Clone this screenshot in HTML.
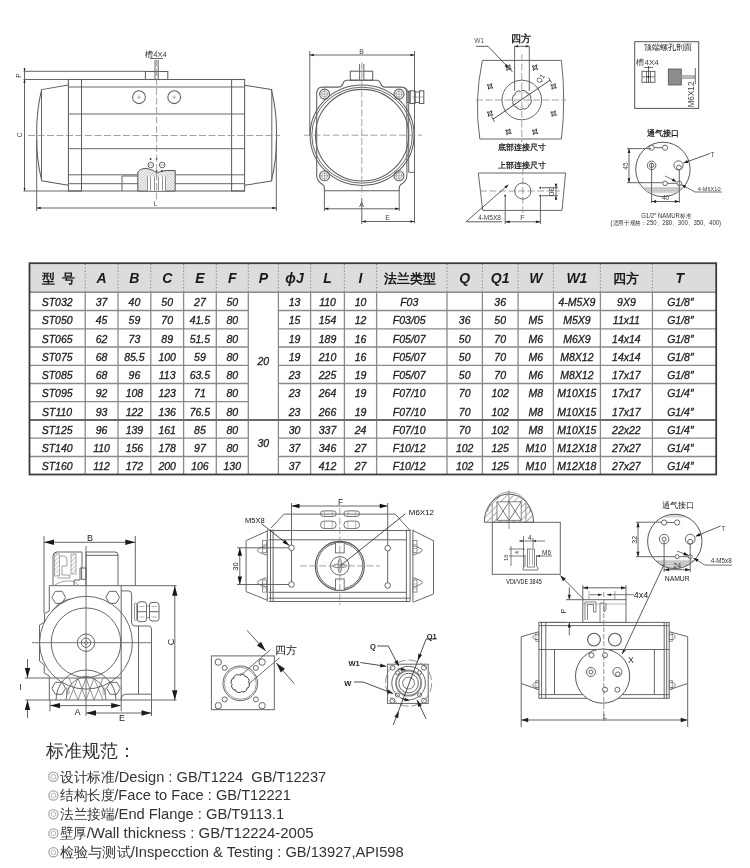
<!DOCTYPE html>
<html><head><meta charset="utf-8"><style>
html,body{margin:0;padding:0;background:#fff;}
body{width:750px;height:868px;position:relative;overflow:hidden;font-family:"Liberation Sans",sans-serif;}
svg{position:absolute;left:0;top:0;will-change:transform;}
.th{font-family:"Liberation Sans",sans-serif;font-weight:bold;font-style:italic;font-size:14px;fill:#1a1a1a;text-anchor:middle;}
.th.cjk{font-style:normal;font-size:13px;}
.td{font-family:"Liberation Sans",sans-serif;font-style:italic;font-size:10.5px;fill:#1e1e1e;stroke:#1e1e1e;stroke-width:0.3px;text-anchor:middle;}
.t0{position:absolute;font-size:17.5px;color:#333;white-space:nowrap;line-height:20px;}
.t1{position:absolute;font-size:14px;color:#3a3a3a;white-space:nowrap;line-height:18px;letter-spacing:-0.2px;}
.ci{color:#888;font-size:12px;margin-right:1px;}
.s{fill:none;stroke:#666;stroke-width:1;}
.s2{fill:none;stroke:#555;stroke-width:1.2;}
.c{fill:none;stroke:#888;stroke-width:0.8;stroke-dasharray:7 2 1.5 2;}
.lb{font-family:"Liberation Sans",sans-serif;font-size:7px;fill:#444;}
</style></head><body>
<svg width="750" height="868" viewBox="0 0 750 868">
<defs>
<pattern id="hatch" width="3" height="3" patternUnits="userSpaceOnUse" patternTransform="rotate(45)"><line x1="0" y1="0" x2="0" y2="3" stroke="#777" stroke-width="0.8"/></pattern>
<pattern id="hatch2" width="4.6" height="4.6" patternUnits="userSpaceOnUse" patternTransform="rotate(45)"><line x1="0" y1="0" x2="0" y2="4.6" stroke="#555" stroke-width="0.9"/></pattern>
<pattern id="hatchd" width="2" height="2" patternUnits="userSpaceOnUse" patternTransform="rotate(45)"><line x1="0" y1="0" x2="0" y2="2" stroke="#666" stroke-width="0.75"/></pattern>
<marker id="ar" viewBox="0 0 10 10" refX="10" refY="5" markerWidth="6" markerHeight="6" orient="auto-start-reverse"><path d="M0,2 L10,5 L0,8 z" fill="#444"/></marker>
</defs>
<line x1="23.5" y1="71.3" x2="145.4" y2="71.3" fill="none" stroke="#666" stroke-width="1"/><line x1="23.5" y1="79.5" x2="68.4" y2="79.5" fill="none" stroke="#666" stroke-width="1"/><line x1="23.5" y1="191" x2="68.4" y2="191" fill="none" stroke="#666" stroke-width="1"/><line x1="24.5" y1="68" x2="24.5" y2="191" fill="none" stroke="#666" stroke-width="1"/><path d="M24.50,71.30 L23.50,68.30 L25.50,68.30 z" fill="#222"/><path d="M24.50,79.50 L25.50,82.50 L23.50,82.50 z" fill="#222"/><path d="M24.50,79.50 L25.50,82.50 L23.50,82.50 z" fill="#222"/><path d="M24.50,191.00 L23.50,188.00 L25.50,188.00 z" fill="#222"/><text x="19.5" y="75.5" font-size="6.5" text-anchor="middle" fill="#444" font-weight="normal" font-family='"Liberation Sans",sans-serif' transform="rotate(-90 19.5 75.5)" dominant-baseline="middle">P</text><text x="20" y="135" font-size="6.5" text-anchor="middle" fill="#444" font-weight="normal" font-family='"Liberation Sans",sans-serif' transform="rotate(-90 20 135)" dominant-baseline="middle">C</text><line x1="36.7" y1="140" x2="36.7" y2="211" fill="none" stroke="#666" stroke-width="1"/><line x1="276.3" y1="140" x2="276.3" y2="211" fill="none" stroke="#666" stroke-width="1"/><line x1="36.7" y1="208" x2="276.3" y2="208" fill="none" stroke="#666" stroke-width="1"/><path d="M36.70,208.00 L40.70,206.80 L40.70,209.20 z" fill="#222"/><path d="M276.30,208.00 L272.30,209.20 L272.30,206.80 z" fill="#222"/><text x="155.5" y="206" font-size="6.5" text-anchor="middle" fill="#444" font-weight="normal" font-family='"Liberation Sans",sans-serif' >L</text><line x1="68.4" y1="79.5" x2="244.6" y2="79.5" fill="none" stroke="#5e5e5e" stroke-width="1.05"/><line x1="68.4" y1="191" x2="244.6" y2="191" fill="none" stroke="#5e5e5e" stroke-width="1.05"/><line x1="68.4" y1="87" x2="244.6" y2="87" fill="none" stroke="#666" stroke-width="1"/><line x1="68.4" y1="114" x2="244.6" y2="114" fill="none" stroke="#666" stroke-width="1"/><line x1="68.4" y1="148.7" x2="244.6" y2="148.7" fill="none" stroke="#666" stroke-width="1"/><line x1="68.4" y1="174.8" x2="244.6" y2="174.8" fill="none" stroke="#666" stroke-width="1"/><line x1="68.4" y1="183.7" x2="244.6" y2="183.7" fill="none" stroke="#666" stroke-width="1"/><rect x="68.4" y="79.5" width="13.1" height="111.5" fill="none" stroke="#5e5e5e" stroke-width="1.05" /><rect x="231.6" y="79.5" width="13.0" height="111.5" fill="none" stroke="#5e5e5e" stroke-width="1.05" /><path d="M68.4,85 L41.6,89.6 Q36.2,112 36.7,135.2 Q36.2,158 41.7,180.7 L68.4,185.3" fill="none" stroke="#5e5e5e" stroke-width="1.05"/><line x1="41.5" y1="89.6" x2="41.5" y2="180.7" fill="none" stroke="#666" stroke-width="1"/><path d="M244.6,85.2 L271.3,89.5 Q277,112 276.5,135.2 Q277,158 271.3,181 L244.6,185.3" fill="none" stroke="#5e5e5e" stroke-width="1.05"/><line x1="271.8" y1="89.5" x2="271.8" y2="181" fill="none" stroke="#666" stroke-width="1"/><rect x="145.4" y="71.5" width="22.4" height="8" fill="none" stroke="#5e5e5e" stroke-width="1.05" /><line x1="155" y1="60" x2="155" y2="79.5" fill="none" stroke="#666" stroke-width="1"/><line x1="158.2" y1="60" x2="158.2" y2="79.5" fill="none" stroke="#666" stroke-width="1"/><line x1="150" y1="58.5" x2="163" y2="58.5" fill="none" stroke="#666" stroke-width="1"/><text x="156" y="57" font-size="7.5" text-anchor="middle" fill="#333" font-weight="normal" font-family='"Liberation Sans",sans-serif' >槽4X4</text><circle cx="139" cy="97.2" r="6.4" fill="none" stroke="#5e5e5e" stroke-width="1.05"/><line x1="137" y1="97.2" x2="141" y2="97.2" stroke="#888" stroke-width="0.6"/><line x1="139" y1="95.2" x2="139" y2="99.2" stroke="#888" stroke-width="0.6"/><circle cx="174.2" cy="97.2" r="6.4" fill="none" stroke="#5e5e5e" stroke-width="1.05"/><line x1="172.2" y1="97.2" x2="176.2" y2="97.2" stroke="#888" stroke-width="0.6"/><line x1="174.2" y1="95.2" x2="174.2" y2="99.2" stroke="#888" stroke-width="0.6"/><path d="M137.8,191 L137.8,172 Q141,168 147,168.5 Q153,169.5 157,173 Q161,171 166,170.5 L175.2,170.5 L175.2,191 Z" fill="#fff" stroke="none"/><path d="M137.8,191 L137.8,172 Q141,168 147,168.5 Q153,169.5 157,173 Q161,171 166,170.5 L175.2,170.5 L175.2,191 Z" fill="url(#hatchd)" stroke="#555" stroke-width="1"/><rect x="147.5" y="176.5" width="18" height="14.3" fill="#fff" stroke="none" /><line x1="147.5" y1="176.5" x2="147.5" y2="190.8" stroke="#777" stroke-width="0.8"/><line x1="150.5" y1="176.5" x2="150.5" y2="190.8" stroke="#777" stroke-width="0.8"/><line x1="154.5" y1="176.5" x2="154.5" y2="190.8" stroke="#777" stroke-width="0.8"/><line x1="158.5" y1="176.5" x2="158.5" y2="190.8" stroke="#777" stroke-width="0.8"/><line x1="162.5" y1="176.5" x2="162.5" y2="190.8" stroke="#777" stroke-width="0.8"/><line x1="165.5" y1="176.5" x2="165.5" y2="190.8" stroke="#777" stroke-width="0.8"/><circle cx="150.8" cy="165" r="2.8" fill="none" stroke="#666" stroke-width="1"/><circle cx="162.2" cy="165" r="2.8" fill="none" stroke="#666" stroke-width="1"/><line x1="149" y1="165" x2="152.6" y2="165" stroke="#777" stroke-width="0.6"/><line x1="160.4" y1="165" x2="164" y2="165" stroke="#777" stroke-width="0.6"/><circle cx="150.6" cy="159" r="0.9" fill="#333"/><circle cx="156.6" cy="159" r="0.9" fill="#333"/><circle cx="156.6" cy="171" r="0.9" fill="#333"/><circle cx="162" cy="171" r="0.9" fill="#333"/><line x1="122" y1="176" x2="137.8" y2="176" fill="none" stroke="#666" stroke-width="1"/><line x1="122" y1="176" x2="122" y2="191" fill="none" stroke="#666" stroke-width="1"/><line x1="156.6" y1="50" x2="156.6" y2="200" fill="none" stroke="#8a8a8a" stroke-width="0.8" stroke-dasharray="7 2.5"/><line x1="28" y1="135.5" x2="280" y2="135.5" fill="none" stroke="#8a8a8a" stroke-width="0.8" stroke-dasharray="7 2.5"/><line x1="309.8" y1="51" x2="309.8" y2="136" fill="none" stroke="#666" stroke-width="1"/><line x1="414.5" y1="51" x2="414.5" y2="223" fill="none" stroke="#666" stroke-width="1"/><line x1="309.8" y1="55" x2="414.5" y2="55" fill="none" stroke="#666" stroke-width="1"/><path d="M309.80,55.00 L313.80,53.80 L313.80,56.20 z" fill="#222"/><path d="M414.50,55.00 L410.50,56.20 L410.50,53.80 z" fill="#222"/><text x="361.5" y="53.5" font-size="7" text-anchor="middle" fill="#444" font-weight="normal" font-family='"Liberation Sans",sans-serif' >B</text><path d="M316.7,175 L316.7,93.6 Q316.9,87.3 322.3,87.1 L338.5,87.1 Q341.5,87 342.8,84 Q344,80.2 347,80.2 L376.6,80.2 Q379.6,80.2 380.8,84 Q382,87 385,87.1 L401.3,87.1 Q406.7,87.3 406.9,93.6 L406.9,175 Q406.9,181 401,184.5 Q399.2,185.8 399.2,188 L399.2,190.7 L324.4,190.7 L324.4,188 Q324.4,185.8 322.6,184.5 Q316.7,181 316.7,175 Z" fill="none" stroke="#5e5e5e" stroke-width="1.05"/><rect x="350.3" y="71.2" width="22.4" height="9" fill="none" stroke="#5e5e5e" stroke-width="1.05" /><line x1="359.6" y1="64" x2="359.6" y2="80" fill="none" stroke="#666" stroke-width="1"/><line x1="363.8" y1="64" x2="363.8" y2="80" fill="none" stroke="#666" stroke-width="1"/><ellipse cx="362.1" cy="135.2" rx="52" ry="50.2" fill="none" stroke="#5e5e5e" stroke-width="1.05"/><ellipse cx="362.1" cy="135.2" rx="50.3" ry="48" fill="none" stroke="#666" stroke-width="1"/><ellipse cx="362.1" cy="135.2" rx="46.6" ry="45.8" fill="none" stroke="#5e5e5e" stroke-width="1.05"/><circle cx="324.6" cy="94.1" r="5" fill="none" stroke="#5e5e5e" stroke-width="1.05"/><circle cx="324.6" cy="94.1" r="3" fill="none" stroke="#888" stroke-width="0.7"/><line x1="319.6" y1="94.1" x2="329.6" y2="94.1" stroke="#888" stroke-width="0.6"/><line x1="324.6" y1="89.1" x2="324.6" y2="99.1" stroke="#888" stroke-width="0.6"/><circle cx="399" cy="94.1" r="5" fill="none" stroke="#5e5e5e" stroke-width="1.05"/><circle cx="399" cy="94.1" r="3" fill="none" stroke="#888" stroke-width="0.7"/><line x1="394" y1="94.1" x2="404" y2="94.1" stroke="#888" stroke-width="0.6"/><line x1="399" y1="89.1" x2="399" y2="99.1" stroke="#888" stroke-width="0.6"/><circle cx="324.6" cy="175.8" r="5" fill="none" stroke="#5e5e5e" stroke-width="1.05"/><circle cx="324.6" cy="175.8" r="3" fill="none" stroke="#888" stroke-width="0.7"/><line x1="319.6" y1="175.8" x2="329.6" y2="175.8" stroke="#888" stroke-width="0.6"/><line x1="324.6" y1="170.8" x2="324.6" y2="180.8" stroke="#888" stroke-width="0.6"/><circle cx="399" cy="175.8" r="5" fill="none" stroke="#5e5e5e" stroke-width="1.05"/><circle cx="399" cy="175.8" r="3" fill="none" stroke="#888" stroke-width="0.7"/><line x1="394" y1="175.8" x2="404" y2="175.8" stroke="#888" stroke-width="0.6"/><line x1="399" y1="170.8" x2="399" y2="180.8" stroke="#888" stroke-width="0.6"/><rect x="407" y="91.5" width="3" height="11" fill="none" stroke="#666" stroke-width="1" /><rect x="410" y="90.8" width="5" height="12.7" fill="none" stroke="#5e5e5e" stroke-width="1.05" /><rect x="415" y="92" width="4.5" height="10.5" fill="none" stroke="#666" stroke-width="1" /><rect x="419.5" y="90.8" width="4.3" height="12.7" fill="none" stroke="#5e5e5e" stroke-width="1.05" /><line x1="412" y1="97" x2="424" y2="97" stroke="#777" stroke-width="0.6"/><path d="M403.5,87.5 Q408.7,88.5 408.7,94 L408.7,172.3 L414.5,172.3" fill="none" stroke="#666" stroke-width="1"/><line x1="361.8" y1="62" x2="361.8" y2="196" fill="none" stroke="#8a8a8a" stroke-width="0.8" stroke-dasharray="7 2.5"/><line x1="304" y1="135.2" x2="422" y2="135.2" fill="none" stroke="#8a8a8a" stroke-width="0.8" stroke-dasharray="7 2.5"/><line x1="324.4" y1="190.7" x2="324.4" y2="211" fill="none" stroke="#666" stroke-width="1"/><line x1="399.2" y1="190.7" x2="399.2" y2="211" fill="none" stroke="#666" stroke-width="1"/><line x1="324.4" y1="208.8" x2="399.2" y2="208.8" fill="none" stroke="#666" stroke-width="1"/><path d="M324.40,208.80 L328.40,207.60 L328.40,210.00 z" fill="#222"/><path d="M399.20,208.80 L395.20,210.00 L395.20,207.60 z" fill="#222"/><text x="361.5" y="207" font-size="7" text-anchor="middle" fill="#444" font-weight="normal" font-family='"Liberation Sans",sans-serif' >A</text><line x1="361.8" y1="198" x2="361.8" y2="224" fill="none" stroke="#666" stroke-width="1"/><line x1="361.8" y1="221.5" x2="414.5" y2="221.5" fill="none" stroke="#666" stroke-width="1"/><path d="M361.80,221.50 L365.80,220.30 L365.80,222.70 z" fill="#222"/><path d="M414.50,221.50 L410.50,222.70 L410.50,220.30 z" fill="#222"/><text x="387.5" y="220" font-size="7" text-anchor="middle" fill="#444" font-weight="normal" font-family='"Liberation Sans",sans-serif' >E</text><path d="M482.4,60.4 L561.4,60.4 Q566,100 561.4,139 L479.8,139 Q474,100 482.4,60.4 Z" fill="none" stroke="#666" stroke-width="1"/><line x1="514.6" y1="46.3" x2="514.6" y2="91" fill="none" stroke="#666" stroke-width="1"/><line x1="529.3" y1="46.3" x2="529.3" y2="91" fill="none" stroke="#666" stroke-width="1"/><line x1="514.6" y1="46.3" x2="529.3" y2="46.3" fill="none" stroke="#666" stroke-width="1"/><path d="M514.60,46.30 L518.10,45.20 L518.10,47.40 z" fill="#222"/><path d="M529.30,46.30 L525.80,47.40 L525.80,45.20 z" fill="#222"/><line x1="521.8" y1="54" x2="521.8" y2="142" fill="none" stroke="#8a8a8a" stroke-width="0.8" stroke-dasharray="7 2.5"/><line x1="476" y1="100" x2="566" y2="100" fill="none" stroke="#8a8a8a" stroke-width="0.8" stroke-dasharray="7 2.5"/><circle cx="521.8" cy="100" r="19.8" fill="none" stroke="#666" stroke-width="1"/><path d="M531.40,100.00 A9.6,9.6 0 0 1 530.28,104.49 Q528.07,104.63 528.59,106.79 A9.6,9.6 0 0 1 524.62,109.18 Q522.96,107.71 521.80,109.60 A9.6,9.6 0 0 1 517.31,108.48 Q517.17,106.27 515.01,106.79 A9.6,9.6 0 0 1 512.62,102.82 Q514.09,101.16 512.20,100.00 A9.6,9.6 0 0 1 513.32,95.51 Q515.53,95.37 515.01,93.21 A9.6,9.6 0 0 1 518.98,90.82 Q520.64,92.29 521.80,90.40 A9.6,9.6 0 0 1 526.29,91.52 Q526.43,93.73 528.59,93.21 A9.6,9.6 0 0 1 530.98,97.18 Q529.51,98.84 531.40,100.00 Z" fill="none" stroke="#444" stroke-width="0.9"/><circle cx="521.8" cy="100" r="7.3" fill="none" stroke="#aaa" stroke-width="0.6" stroke-dasharray="1.5 1.5"/><path d="M511.26,69.25 L508.79,69.05 L506.75,70.46 L506.95,67.99 L505.54,65.95 L508.01,66.15 L510.05,64.74 L509.85,67.21 Z" fill="none" stroke="#333" stroke-width="0.9"/><circle cx="508.4" cy="67.6" r="0.9" fill="none" stroke="#666" stroke-width="0.5"/><path d="M537.86,69.25 L535.39,69.05 L533.35,70.46 L533.55,67.99 L532.14,65.95 L534.61,66.15 L536.65,64.74 L536.45,67.21 Z" fill="none" stroke="#333" stroke-width="0.9"/><circle cx="535" cy="67.6" r="0.9" fill="none" stroke="#666" stroke-width="0.5"/><path d="M492.86,88.05 L490.39,87.85 L488.35,89.26 L488.55,86.79 L487.14,84.75 L489.61,84.95 L491.65,83.54 L491.45,86.01 Z" fill="none" stroke="#333" stroke-width="0.9"/><circle cx="490" cy="86.4" r="0.9" fill="none" stroke="#666" stroke-width="0.5"/><path d="M556.46,88.05 L553.99,87.85 L551.95,89.26 L552.15,86.79 L550.74,84.75 L553.21,84.95 L555.25,83.54 L555.05,86.01 Z" fill="none" stroke="#333" stroke-width="0.9"/><circle cx="553.6" cy="86.4" r="0.9" fill="none" stroke="#666" stroke-width="0.5"/><path d="M492.86,115.25 L490.39,115.05 L488.35,116.46 L488.55,113.99 L487.14,111.95 L489.61,112.15 L491.65,110.74 L491.45,113.21 Z" fill="none" stroke="#333" stroke-width="0.9"/><circle cx="490" cy="113.6" r="0.9" fill="none" stroke="#666" stroke-width="0.5"/><path d="M556.46,115.25 L553.99,115.05 L551.95,116.46 L552.15,113.99 L550.74,111.95 L553.21,112.15 L555.25,110.74 L555.05,113.21 Z" fill="none" stroke="#333" stroke-width="0.9"/><circle cx="553.6" cy="113.6" r="0.9" fill="none" stroke="#666" stroke-width="0.5"/><path d="M511.26,133.45 L508.79,133.25 L506.75,134.66 L506.95,132.19 L505.54,130.15 L508.01,130.35 L510.05,128.94 L509.85,131.41 Z" fill="none" stroke="#333" stroke-width="0.9"/><circle cx="508.4" cy="131.8" r="0.9" fill="none" stroke="#666" stroke-width="0.5"/><path d="M537.86,133.45 L535.39,133.25 L533.35,134.66 L533.55,132.19 L532.14,130.15 L534.61,130.35 L536.65,128.94 L536.45,131.41 Z" fill="none" stroke="#333" stroke-width="0.9"/><circle cx="535" cy="131.8" r="0.9" fill="none" stroke="#666" stroke-width="0.5"/><line x1="493" y1="119.2" x2="550" y2="80.2" stroke="#333" stroke-width="0.9"/><line x1="491.5" y1="116.5" x2="494.5" y2="121.8" stroke="#333" stroke-width="0.8"/><line x1="548.5" y1="77.6" x2="551.5" y2="82.8" stroke="#333" stroke-width="0.8"/><text x="542.5" y="80" font-size="7" text-anchor="middle" fill="#444" font-weight="normal" font-family='"Liberation Sans",sans-serif' transform="rotate(-55 542.5 80)" >Q1</text><line x1="476" y1="46.3" x2="488" y2="46.3" stroke="#333" stroke-width="0.8"/><line x1="488" y1="46.3" x2="512.5" y2="72" stroke="#333" stroke-width="0.8"/><path d="M508.60,67.90 L504.81,66.00 L506.83,64.05 z" fill="#222"/><text x="479.2" y="43.3" font-size="6.5" text-anchor="middle" fill="#555" font-weight="normal" font-family='"Liberation Sans",sans-serif' >W1</text><text x="521.3" y="42" font-size="9.5" text-anchor="middle" fill="#222" font-weight="bold" font-family='"Liberation Sans",sans-serif' >四方</text><text x="521.8" y="150" font-size="8.3" text-anchor="middle" fill="#222" font-weight="bold" font-family='"Liberation Sans",sans-serif' >底部连接尺寸</text><text x="521.8" y="167.5" font-size="8.3" text-anchor="middle" fill="#222" font-weight="bold" font-family='"Liberation Sans",sans-serif' >上部连接尺寸</text><path d="M478.3,173 L565.6,173 L562,210.4 L482.7,210.4 Z" fill="none" stroke="#666" stroke-width="1"/><line x1="522.8" y1="168" x2="522.8" y2="214" fill="none" stroke="#8a8a8a" stroke-width="0.8" stroke-dasharray="7 2.5"/><line x1="480" y1="191" x2="560" y2="191" fill="none" stroke="#8a8a8a" stroke-width="0.8" stroke-dasharray="7 2.5"/><circle cx="522.8" cy="191" r="8.1" fill="none" stroke="#666" stroke-width="1"/><circle cx="505.2" cy="195.7" r="1" fill="#222"/><circle cx="540.4" cy="187.7" r="1" fill="#222"/><circle cx="540.4" cy="195.7" r="1" fill="#222"/><line x1="505.2" y1="197" x2="505.2" y2="224" fill="none" stroke="#666" stroke-width="1"/><line x1="540.4" y1="197" x2="540.4" y2="224" fill="none" stroke="#666" stroke-width="1"/><line x1="505.2" y1="221.8" x2="540.4" y2="221.8" fill="none" stroke="#666" stroke-width="1"/><path d="M505.20,221.80 L509.70,220.40 L509.70,223.20 z" fill="#222"/><path d="M540.40,221.80 L535.90,223.20 L535.90,220.40 z" fill="#222"/><text x="522.5" y="219.5" font-size="7" text-anchor="middle" fill="#444" font-weight="normal" font-family='"Liberation Sans",sans-serif' >F</text><line x1="542" y1="187.7" x2="558" y2="187.7" fill="none" stroke="#666" stroke-width="1"/><line x1="542" y1="195.7" x2="558" y2="195.7" fill="none" stroke="#666" stroke-width="1"/><line x1="556" y1="184" x2="556" y2="199.5" fill="none" stroke="#666" stroke-width="1"/><path d="M556.00,187.70 L554.70,183.70 L557.30,183.70 z" fill="#222"/><path d="M556.00,195.70 L557.30,199.70 L554.70,199.70 z" fill="#222"/><text x="551.5" y="191.7" font-size="8" text-anchor="middle" fill="#333" font-weight="normal" font-family='"Liberation Sans",sans-serif' transform="rotate(90 551.5 191.7)" dominant-baseline="middle">30</text><line x1="466" y1="221.8" x2="502" y2="221.8" stroke="#333" stroke-width="0.8"/><line x1="466" y1="221.8" x2="508.4" y2="184.7" stroke="#333" stroke-width="0.8"/><path d="M508.40,184.70 L506.30,188.38 L504.46,186.27 z" fill="#222"/><text x="489.5" y="219.8" font-size="6.6" text-anchor="middle" fill="#444" font-weight="normal" font-family='"Liberation Sans",sans-serif' >4-M5X8</text><rect x="634.7" y="41.7" width="64" height="66.7" fill="none" stroke="#555" stroke-width="1" /><text x="667.6" y="49.5" font-size="7.6" text-anchor="middle" fill="#111" font-weight="normal" font-family='"Liberation Sans",sans-serif' >顶端螺孔剖面</text><text x="647.6" y="64.5" font-size="8" text-anchor="middle" fill="#444" font-weight="normal" font-family='"Liberation Sans",sans-serif' >槽4X4</text><rect x="642" y="71.3" width="12.9" height="11" fill="none" stroke="#555" stroke-width="0.9" /><line x1="642" y1="76.8" x2="654.9" y2="76.8" stroke="#555" stroke-width="0.8"/><line x1="646.5" y1="71.3" x2="646.5" y2="82.3" stroke="#555" stroke-width="0.8"/><line x1="650.5" y1="71.3" x2="650.5" y2="82.3" stroke="#555" stroke-width="0.8"/><line x1="648.5" y1="66" x2="648.5" y2="82.3" stroke="#333" stroke-width="0.8"/><line x1="644" y1="67.5" x2="653" y2="67.5" stroke="#333" stroke-width="0.7"/><circle cx="648.5" cy="76.8" r="1" fill="#222"/><rect x="668.3" y="69" width="13" height="16" fill="#8c8c8c" stroke="#555" stroke-width="0.8" /><rect x="681.3" y="75.5" width="13.4" height="3.2" fill="#bbb" stroke="#888" stroke-width="0.5" /><line x1="695.3" y1="68" x2="695.3" y2="84" stroke="#444" stroke-width="0.8"/><text x="691.5" y="94.5" font-size="8.2" text-anchor="middle" fill="#444" font-weight="normal" font-family='"Liberation Sans",sans-serif' transform="rotate(-90 691.5 94.5)" dominant-baseline="middle">M6X12</text><text x="662.5" y="135.5" font-size="8" text-anchor="middle" fill="#222" font-weight="bold" font-family='"Liberation Sans",sans-serif' >通气接口</text><circle cx="662.9" cy="169.4" r="27.2" fill="none" stroke="#555" stroke-width="1"/><clipPath id="vclip"><circle cx="662.9" cy="169.4" r="27"/></clipPath><g clip-path="url(#vclip)"><rect x="630" y="186.8" width="70" height="6.5" fill="#d6d6d6"/><line x1="630" y1="188.6" x2="700" y2="188.6" stroke="#aaa" stroke-width="0.6"/><line x1="630" y1="190.8" x2="700" y2="190.8" stroke="#aaa" stroke-width="0.6"/></g><circle cx="651.6" cy="147.7" r="2.6" fill="none" stroke="#666" stroke-width="1"/><circle cx="665.1" cy="147.7" r="2.6" fill="none" stroke="#666" stroke-width="1"/><line x1="654.2" y1="147.7" x2="662.5" y2="147.7" fill="none" stroke="#666" stroke-width="1"/><circle cx="651.6" cy="165.4" r="4.3" fill="none" stroke="#666" stroke-width="1"/><circle cx="651.6" cy="165.4" r="2.2" fill="none" stroke="#666" stroke-width="1"/><line x1="651.6" y1="163" x2="651.6" y2="203" fill="none" stroke="#666" stroke-width="1"/><circle cx="678.5" cy="165.4" r="4.6" fill="none" stroke="#666" stroke-width="1"/><circle cx="679" cy="167.5" r="2.4" fill="none" stroke="#666" stroke-width="1"/><line x1="679.3" y1="170" x2="679.3" y2="203" fill="none" stroke="#666" stroke-width="1"/><circle cx="665.1" cy="183.3" r="2.3" fill="none" stroke="#666" stroke-width="1"/><circle cx="679.3" cy="183.3" r="2.3" fill="none" stroke="#666" stroke-width="1"/><line x1="667.4" y1="183.3" x2="677" y2="183.3" fill="none" stroke="#666" stroke-width="1"/><line x1="627" y1="148.6" x2="651" y2="148.6" fill="none" stroke="#666" stroke-width="1"/><line x1="627" y1="182.7" x2="663" y2="182.7" fill="none" stroke="#666" stroke-width="1"/><line x1="629" y1="148.6" x2="629" y2="182.7" fill="none" stroke="#666" stroke-width="1"/><path d="M629.00,148.60 L630.40,153.10 L627.60,153.10 z" fill="#222"/><path d="M629.00,182.70 L627.60,178.20 L630.40,178.20 z" fill="#222"/><text x="626.5" y="166" font-size="6.5" text-anchor="middle" fill="#444" font-weight="normal" font-family='"Liberation Sans",sans-serif' transform="rotate(-90 626.5 166)" dominant-baseline="middle">45</text><line x1="651.6" y1="201.5" x2="679.3" y2="201.5" fill="none" stroke="#666" stroke-width="1"/><path d="M651.60,201.50 L656.10,200.10 L656.10,202.90 z" fill="#222"/><path d="M679.30,201.50 L674.80,202.90 L674.80,200.10 z" fill="#222"/><text x="665.5" y="199.5" font-size="6.5" text-anchor="middle" fill="#444" font-weight="normal" font-family='"Liberation Sans",sans-serif' >40</text><line x1="710" y1="153.5" x2="683.5" y2="163" stroke="#333" stroke-width="0.8"/><path d="M683.50,163.00 L687.18,159.96 L688.28,162.96 z" fill="#222"/><text x="712.5" y="157.3" font-size="6.5" text-anchor="middle" fill="#444" font-weight="normal" font-family='"Liberation Sans",sans-serif' >T</text><line x1="695" y1="192" x2="722" y2="192" stroke="#333" stroke-width="0.7"/><line x1="695" y1="192" x2="681" y2="184.5" stroke="#333" stroke-width="0.7"/><path d="M681.50,184.80 L686.22,185.50 L684.72,188.33 z" fill="#222"/><line x1="665" y1="176" x2="676" y2="181.5" stroke="#333" stroke-width="0.7"/><path d="M676.50,181.80 L671.78,181.10 L673.28,178.27 z" fill="#222"/><text x="709.2" y="191.3" font-size="5.6" text-anchor="middle" fill="#444" font-weight="normal" font-family='"Liberation Sans",sans-serif' >4-M6X10</text><text x="666.2" y="217.5" font-size="6.4" text-anchor="middle" fill="#333" font-weight="normal" font-family='"Liberation Sans",sans-serif' textLength="50" lengthAdjust="spacingAndGlyphs">G1/2″ NAMUR标准</text><text x="665.8" y="224.5" font-size="6.3" text-anchor="middle" fill="#333" font-weight="normal" font-family='"Liberation Sans",sans-serif' textLength="110.4" lengthAdjust="spacingAndGlyphs">(适用于规格：250、280、300、350、400)</text><line x1="44" y1="536" x2="44" y2="613" fill="none" stroke="#666" stroke-width="1"/><line x1="135.3" y1="536" x2="135.3" y2="585.7" fill="none" stroke="#666" stroke-width="1"/><line x1="44" y1="542.3" x2="135.3" y2="542.3" fill="none" stroke="#666" stroke-width="1"/><path d="M44.00,542.30 L54.00,539.60 L54.00,545.00 z" fill="#1a1a1a"/><path d="M135.30,542.30 L125.30,545.00 L125.30,539.60 z" fill="#1a1a1a"/><text x="90" y="540.5" font-size="9" text-anchor="middle" fill="#222" font-weight="normal" font-family='"Liberation Sans",sans-serif' >B</text><path d="M86,585.7 L86,552 L115,552 Q118,552 118,555 L118,585.7" fill="none" stroke="#666" stroke-width="1"/><line x1="86" y1="555.3" x2="118" y2="555.3" fill="none" stroke="#666" stroke-width="1"/><rect x="81.6" y="568" width="4.4" height="11.3" fill="none" stroke="#666" stroke-width="1" /><path d="M53,585 L53,556 Q53,552 57,552 L82,552 L82,568 L80,568 L80,580 L74,580 L74,585" fill="none" stroke="#666" stroke-width="1"/><rect x="54.5" y="554" width="5" height="22" fill="url(#hatch)" stroke="#777" stroke-width="0.6" /><rect x="71" y="554" width="5" height="20" fill="url(#hatch)" stroke="#777" stroke-width="0.6" /><path d="M60,556 L64,556 Q67,556 67,560 L67,566 L62,566 L62,575 L70,575 L70,578 L57,578" fill="none" stroke="#777" stroke-width="0.7"/><path d="M55,585 Q62,580 72,581 Q76,582 78,585" fill="none" stroke="#777" stroke-width="0.7"/><line x1="49.3" y1="585.7" x2="176.5" y2="585.7" fill="none" stroke="#666" stroke-width="1"/><path d="M49.3,585.7 L49.3,611 L44.5,613.5 L44.5,622 L39.5,625 L39.5,661 L44.2,665 L44.2,673 L49.3,676 L49.3,700" fill="none" stroke="#666" stroke-width="1"/><line x1="50" y1="678" x2="121.2" y2="678" fill="none" stroke="#666" stroke-width="1"/><line x1="121.2" y1="585.7" x2="121.2" y2="700" fill="none" stroke="#666" stroke-width="1"/><path d="M121.2,590.9 L128.6,590.9 Q131.6,590.9 131.6,594 L131.6,622 Q131.6,626 135,626 L148.5,626 Q151.5,626 151.5,629 L151.5,700" fill="none" stroke="#666" stroke-width="1"/><path d="M138.5,626 L138.5,694.2 L151.5,694.2" fill="none" stroke="#666" stroke-width="1"/><path d="M121.2,700 L121.2,698 Q122,694.2 126,694.2 L138.5,694.2" fill="none" stroke="#666" stroke-width="1"/><rect x="134.5" y="603" width="2.2" height="17.5" fill="none" stroke="#777" stroke-width="0.8" rx="1" /><rect x="137.5" y="601.8" width="9" height="19.9" fill="none" stroke="#666" stroke-width="1" rx="2.5" /><line x1="137.5" y1="611.7" x2="146.5" y2="611.7" fill="none" stroke="#666" stroke-width="1"/><line x1="139.5" y1="606.5" x2="144.5" y2="606.5" stroke="#888" stroke-width="0.6"/><line x1="139.5" y1="617" x2="144.5" y2="617" stroke="#888" stroke-width="0.6"/><rect x="146.5" y="606" width="3" height="11.5" fill="none" stroke="#777" stroke-width="0.8" /><rect x="149.5" y="602.5" width="9.5" height="18.5" fill="none" stroke="#666" stroke-width="1" rx="2.5" /><line x1="149.5" y1="611.7" x2="159" y2="611.7" fill="none" stroke="#666" stroke-width="1"/><line x1="151.5" y1="606.5" x2="157" y2="606.5" stroke="#888" stroke-width="0.6"/><line x1="151.5" y1="617" x2="157" y2="617" stroke="#888" stroke-width="0.6"/><path d="M51.90,597.30 L55.30,591.30 L62.10,591.30 L65.50,597.30 L62.10,603.30 L55.30,603.30 Z" fill="none" stroke="#666" stroke-width="1"/><path d="M105.90,597.30 L109.30,591.30 L116.10,591.30 L119.50,597.30 L116.10,603.30 L109.30,603.30 Z" fill="none" stroke="#666" stroke-width="1"/><path d="M51.90,688.30 L55.30,682.30 L62.10,682.30 L65.50,688.30 L62.10,694.30 L55.30,694.30 Z" fill="none" stroke="#666" stroke-width="1"/><path d="M106.70,688.30 L110.10,682.30 L116.90,682.30 L120.30,688.30 L116.90,694.30 L110.10,694.30 Z" fill="none" stroke="#666" stroke-width="1"/><path d="M52,611 Q60,601 70,599" fill="none" stroke="#666" stroke-width="1"/><circle cx="86" cy="642.7" r="46.4" fill="none" stroke="#666" stroke-width="1"/><circle cx="86" cy="642.7" r="34.8" fill="none" stroke="#666" stroke-width="1"/><circle cx="86" cy="642.7" r="8.7" fill="none" stroke="#666" stroke-width="1"/><circle cx="86" cy="642.7" r="4.7" fill="none" stroke="#666" stroke-width="1"/><circle cx="86" cy="642.7" r="1.8" fill="none" stroke="#888" stroke-width="0.6"/><path d="M56,700 A30,30 0 0 1 116,700" fill="none" stroke="#666" stroke-width="1"/><path d="M66,700 Q66,680 86,676 Q106,680 106,700" fill="none" stroke="#666" stroke-width="0.9"/><path d="M69,678 L78,700 L86,678 L94,700 L103,678 M69,700 L78,678 L86,700 L94,678 L103,700" fill="none" stroke="#777" stroke-width="0.8"/><rect x="66.5" y="688" width="2.5" height="6" fill="url(#hatch)" stroke="#777" stroke-width="0.5" /><rect x="103" y="688" width="2.5" height="6" fill="url(#hatch)" stroke="#777" stroke-width="0.5" /><line x1="32" y1="642.7" x2="151.5" y2="642.7" stroke="#666" stroke-width="0.9"/><line x1="86" y1="546" x2="86" y2="716" stroke="#666" stroke-width="0.9"/><line x1="25.3" y1="700" x2="176.5" y2="700" fill="none" stroke="#666" stroke-width="1"/><line x1="174.8" y1="585.7" x2="174.8" y2="700.3" fill="none" stroke="#666" stroke-width="1"/><path d="M174.80,585.70 L177.50,595.70 L172.10,595.70 z" fill="#1a1a1a"/><path d="M174.80,700.30 L172.10,690.30 L177.50,690.30 z" fill="#1a1a1a"/><text x="171.3" y="642" font-size="9" text-anchor="middle" fill="#222" font-weight="normal" font-family='"Liberation Sans",sans-serif' transform="rotate(-90 171.3 642)" dominant-baseline="middle">C</text><line x1="50" y1="700" x2="50" y2="711.3" fill="none" stroke="#666" stroke-width="1"/><line x1="121.2" y1="700" x2="121.2" y2="711.3" fill="none" stroke="#666" stroke-width="1"/><line x1="50" y1="705.6" x2="120" y2="705.6" fill="none" stroke="#666" stroke-width="1"/><path d="M50.00,705.60 L60.00,702.90 L60.00,708.30 z" fill="#1a1a1a"/><path d="M121.20,705.60 L111.20,708.30 L111.20,702.90 z" fill="#1a1a1a"/><text x="77.6" y="714.5" font-size="9" text-anchor="middle" fill="#222" font-weight="normal" font-family='"Liberation Sans",sans-serif' >A</text><line x1="151.5" y1="700" x2="151.5" y2="716" fill="none" stroke="#666" stroke-width="1"/><line x1="86" y1="713" x2="151.5" y2="713" fill="none" stroke="#666" stroke-width="1"/><path d="M86.00,713.00 L96.00,710.30 L96.00,715.70 z" fill="#1a1a1a"/><path d="M151.50,713.00 L141.50,715.70 L141.50,710.30 z" fill="#1a1a1a"/><text x="122" y="721" font-size="9" text-anchor="middle" fill="#222" font-weight="normal" font-family='"Liberation Sans",sans-serif' >E</text><line x1="25" y1="678" x2="50" y2="678" fill="none" stroke="#666" stroke-width="1"/><line x1="27.5" y1="659" x2="27.5" y2="678" fill="none" stroke="#666" stroke-width="1"/><path d="M27.50,678.00 L24.80,668.00 L30.20,668.00 z" fill="#1a1a1a"/><line x1="27.5" y1="700" x2="27.5" y2="718" fill="none" stroke="#666" stroke-width="1"/><path d="M27.50,700.00 L30.20,710.00 L24.80,710.00 z" fill="#1a1a1a"/><text x="20.5" y="689.5" font-size="8.5" text-anchor="middle" fill="#222" font-weight="normal" font-family='"Liberation Sans",sans-serif' >I</text><path d="M271,528 L284.1,514.1 L395.2,514.1 L410.1,530.5" fill="none" stroke="#666" stroke-width="1"/><line x1="268.7" y1="530.5" x2="410.1" y2="530.5" fill="none" stroke="#666" stroke-width="1"/><line x1="268.7" y1="539.8" x2="406.4" y2="539.8" fill="none" stroke="#666" stroke-width="1"/><line x1="268.7" y1="592.3" x2="406.4" y2="592.3" fill="none" stroke="#666" stroke-width="1"/><line x1="268.7" y1="598.2" x2="410.1" y2="598.2" fill="none" stroke="#666" stroke-width="1"/><line x1="268.7" y1="601.5" x2="410.1" y2="601.5" fill="none" stroke="#666" stroke-width="1"/><line x1="267.3" y1="529.5" x2="267.3" y2="601.5" fill="none" stroke="#666" stroke-width="1"/><line x1="270.5" y1="529.5" x2="270.5" y2="601.5" fill="none" stroke="#666" stroke-width="1"/><line x1="273.1" y1="529.5" x2="273.1" y2="601.5" fill="none" stroke="#666" stroke-width="1"/><line x1="406.4" y1="529.5" x2="406.4" y2="601.5" fill="none" stroke="#666" stroke-width="1"/><line x1="410.1" y1="529.5" x2="410.1" y2="601.5" fill="none" stroke="#666" stroke-width="1"/><line x1="412.9" y1="529.5" x2="412.9" y2="601.5" fill="none" stroke="#666" stroke-width="1"/><path d="M267.3,531 L246.1,540.6 L246.1,591.6 L267.3,600.2" fill="none" stroke="#666" stroke-width="1"/><path d="M412.9,530.5 L433.5,540.7 L433.5,594 L412.9,602.3" fill="none" stroke="#666" stroke-width="1"/><path d="M266.7,545.5 Q257.4,548.3 257.4,550.3 Q257.4,552.3 266.7,555.0999999999999" fill="none" stroke="#666" stroke-width="0.9"/><rect x="262.59999999999997" y="540.5999999999999" width="4.1" height="12.1" fill="none" stroke="#777" stroke-width="0.8" /><line x1="262.59999999999997" y1="544.5999999999999" x2="266.7" y2="544.5999999999999" stroke="#888" stroke-width="0.6"/><line x1="262.59999999999997" y1="548.5999999999999" x2="266.7" y2="548.5999999999999" stroke="#888" stroke-width="0.6"/><path d="M266.7,577.6 Q257.4,580.4 257.4,582.4 Q257.4,584.4 266.7,587.1999999999999" fill="none" stroke="#666" stroke-width="0.9"/><rect x="262.59999999999997" y="580.0" width="4.1" height="12.1" fill="none" stroke="#777" stroke-width="0.8" /><line x1="262.59999999999997" y1="584.0" x2="266.7" y2="584.0" stroke="#888" stroke-width="0.6"/><line x1="262.59999999999997" y1="588.0" x2="266.7" y2="588.0" stroke="#888" stroke-width="0.6"/><path d="M412.9,545.5 Q422.2,548.3 422.2,550.3 Q422.2,552.3 412.9,555.0999999999999" fill="none" stroke="#666" stroke-width="0.9"/><rect x="412.9" y="540.5999999999999" width="4.1" height="12.1" fill="none" stroke="#777" stroke-width="0.8" /><line x1="412.9" y1="544.5999999999999" x2="417.0" y2="544.5999999999999" stroke="#888" stroke-width="0.6"/><line x1="412.9" y1="548.5999999999999" x2="417.0" y2="548.5999999999999" stroke="#888" stroke-width="0.6"/><path d="M412.9,577.6 Q422.2,580.4 422.2,582.4 Q422.2,584.4 412.9,587.1999999999999" fill="none" stroke="#666" stroke-width="0.9"/><rect x="412.9" y="580.0" width="4.1" height="12.1" fill="none" stroke="#777" stroke-width="0.8" /><line x1="412.9" y1="584.0" x2="417.0" y2="584.0" stroke="#888" stroke-width="0.6"/><line x1="412.9" y1="588.0" x2="417.0" y2="588.0" stroke="#888" stroke-width="0.6"/><rect x="320.5" y="510.9" width="15.7" height="5.600000000000023" fill="none" stroke="#666" stroke-width="0.9" rx="2.8" /><line x1="324.5" y1="510.9" x2="324.5" y2="516.5" stroke="#888" stroke-width="0.6"/><line x1="332.2" y1="510.9" x2="332.2" y2="516.5" stroke="#888" stroke-width="0.6"/><rect x="320.5" y="521.1" width="15.7" height="7.5" fill="none" stroke="#666" stroke-width="0.9" rx="3.8" /><line x1="324.5" y1="521.1" x2="324.5" y2="528.6" stroke="#888" stroke-width="0.6"/><line x1="332.2" y1="521.1" x2="332.2" y2="528.6" stroke="#888" stroke-width="0.6"/><rect x="343.9" y="510.9" width="15.7" height="5.600000000000023" fill="none" stroke="#666" stroke-width="0.9" rx="2.8" /><line x1="347.9" y1="510.9" x2="347.9" y2="516.5" stroke="#888" stroke-width="0.6"/><line x1="355.59999999999997" y1="510.9" x2="355.59999999999997" y2="516.5" stroke="#888" stroke-width="0.6"/><rect x="343.9" y="521.1" width="15.7" height="7.5" fill="none" stroke="#666" stroke-width="0.9" rx="3.8" /><line x1="347.9" y1="521.1" x2="347.9" y2="528.6" stroke="#888" stroke-width="0.6"/><line x1="355.59999999999997" y1="521.1" x2="355.59999999999997" y2="528.6" stroke="#888" stroke-width="0.6"/><circle cx="339.8" cy="565.9" r="24.5" fill="none" stroke="#555" stroke-width="1.1"/><circle cx="339.8" cy="565.9" r="23" fill="none" stroke="#666" stroke-width="1"/><circle cx="339.8" cy="565.9" r="9.3" fill="none" stroke="#666" stroke-width="1"/><ellipse cx="339.8" cy="565.9" rx="7" ry="1.8" fill="none" stroke="#666" stroke-width="0.8"/><ellipse cx="339.8" cy="565.9" rx="1.8" ry="7" fill="none" stroke="#666" stroke-width="0.8"/><rect x="335.5" y="542.6" width="8.7" height="10.3" fill="#fff" stroke="#666" stroke-width="0.9" /><rect x="335.5" y="579" width="8.7" height="11.2" fill="#fff" stroke="#666" stroke-width="0.9" /><line x1="339.8" y1="508" x2="339.8" y2="605" fill="none" stroke="#8a8a8a" stroke-width="0.8" stroke-dasharray="7 2.5"/><line x1="300" y1="565.9" x2="380" y2="565.9" fill="none" stroke="#8a8a8a" stroke-width="0.8" stroke-dasharray="7 2.5"/><line x1="291.5" y1="503" x2="291.5" y2="585" fill="none" stroke="#666" stroke-width="1"/><line x1="387.7" y1="503" x2="387.7" y2="585" fill="none" stroke="#666" stroke-width="1"/><line x1="291.5" y1="506" x2="387.7" y2="506" fill="none" stroke="#666" stroke-width="1"/><path d="M291.50,506.00 L299.50,503.80 L299.50,508.20 z" fill="#111"/><path d="M387.70,506.00 L379.70,508.20 L379.70,503.80 z" fill="#111"/><text x="340.7" y="505" font-size="8.5" text-anchor="middle" fill="#222" font-weight="normal" font-family='"Liberation Sans",sans-serif' >F</text><circle cx="291.5" cy="547.8" r="2.8" fill="#fff" stroke="#555" stroke-width="0.9"/><circle cx="291.5" cy="584.5" r="2.8" fill="#fff" stroke="#555" stroke-width="0.9"/><circle cx="387.7" cy="548.2" r="2.8" fill="#fff" stroke="#555" stroke-width="0.9"/><circle cx="387.7" cy="585.5" r="2.8" fill="#fff" stroke="#555" stroke-width="0.9"/><line x1="237" y1="547.8" x2="289" y2="547.8" fill="none" stroke="#666" stroke-width="1"/><line x1="237" y1="584.5" x2="289" y2="584.5" fill="none" stroke="#666" stroke-width="1"/><line x1="239.8" y1="547.8" x2="239.8" y2="584.5" fill="none" stroke="#666" stroke-width="1"/><path d="M239.80,547.80 L242.00,555.80 L237.60,555.80 z" fill="#111"/><path d="M239.80,584.50 L237.60,576.50 L242.00,576.50 z" fill="#111"/><text x="236.5" y="566.5" font-size="7.5" text-anchor="middle" fill="#222" font-weight="normal" font-family='"Liberation Sans",sans-serif' transform="rotate(-90 236.5 566.5)" dominant-baseline="middle">30</text><text x="254.8" y="523" font-size="7.5" text-anchor="middle" fill="#111" font-weight="normal" font-family='"Liberation Sans",sans-serif' >M5X8</text><line x1="261.4" y1="523.6" x2="289.3" y2="545.6" stroke="#222" stroke-width="0.8"/><path d="M289.30,545.60 L282.55,542.87 L285.02,539.71 z" fill="#111"/><text x="421.4" y="515" font-size="8" text-anchor="middle" fill="#111" font-weight="normal" font-family='"Liberation Sans",sans-serif' >M6X12</text><line x1="405.5" y1="513.7" x2="340.1" y2="565.9" stroke="#222" stroke-width="0.8"/><rect x="211.4" y="655.9" width="62.9" height="53.8" fill="none" stroke="#666" stroke-width="1" /><circle cx="240.3" cy="683.3" r="17.3" fill="none" stroke="#666" stroke-width="1"/><circle cx="240.3" cy="683.3" r="16" fill="none" stroke="#888" stroke-width="0.8"/><path d="M249.60,683.30 A9.3,9.3 0 0 1 248.52,687.65 Q245.85,687.40 246.88,689.88 A9.3,9.3 0 0 1 243.03,692.19 Q241.33,690.12 240.30,692.60 A9.3,9.3 0 0 1 235.95,691.52 Q236.20,688.85 233.72,689.88 A9.3,9.3 0 0 1 231.41,686.03 Q233.48,684.33 231.00,683.30 A9.3,9.3 0 0 1 232.08,678.95 Q234.75,679.20 233.72,676.72 A9.3,9.3 0 0 1 237.57,674.41 Q239.27,676.48 240.30,674.00 A9.3,9.3 0 0 1 244.65,675.08 Q244.40,677.75 246.88,676.72 A9.3,9.3 0 0 1 249.19,680.57 Q247.12,682.27 249.60,683.30 Z" fill="none" stroke="#444" stroke-width="1"/><circle cx="218.3" cy="662.1" r="3.2" fill="none" stroke="#666" stroke-width="1"/><circle cx="262.1" cy="662.1" r="3.2" fill="none" stroke="#666" stroke-width="1"/><circle cx="218.3" cy="705.7" r="3.2" fill="none" stroke="#666" stroke-width="1"/><circle cx="262.1" cy="705.7" r="3.2" fill="none" stroke="#666" stroke-width="1"/><circle cx="224.7" cy="667.9" r="2.5" fill="none" stroke="#666" stroke-width="1"/><circle cx="255.9" cy="667.9" r="2.5" fill="none" stroke="#666" stroke-width="1"/><circle cx="224.7" cy="699.4" r="2.5" fill="none" stroke="#666" stroke-width="1"/><circle cx="255.9" cy="699.4" r="2.5" fill="none" stroke="#666" stroke-width="1"/><line x1="240.3" y1="675.7" x2="270.3" y2="649.7" stroke="#444" stroke-width="0.8"/><line x1="248.3" y1="684.3" x2="279.7" y2="657.7" stroke="#444" stroke-width="0.8"/><line x1="247" y1="630.3" x2="265.7" y2="651" stroke="#333" stroke-width="0.8"/><path d="M265.70,651.00 L256.93,645.44 L261.09,641.69 z" fill="#222"/><line x1="294.3" y1="683.7" x2="276.3" y2="663" stroke="#333" stroke-width="0.8"/><path d="M276.30,663.00 L284.97,668.71 L280.75,672.38 z" fill="#222"/><text x="285.5" y="654.3" font-size="10.5" text-anchor="middle" fill="#111" font-weight="normal" font-family='"Liberation Sans",sans-serif' >四方</text><rect x="387.6" y="664.2" width="40.6" height="39.2" fill="none" stroke="#666" stroke-width="1" /><circle cx="408.6" cy="683.1" r="23.1" fill="none" stroke="#777" stroke-width="0.8" stroke-dasharray="9 3"/><circle cx="408.6" cy="683.1" r="16.8" fill="none" stroke="#666" stroke-width="1"/><circle cx="408.6" cy="683.1" r="12.6" fill="none" stroke="#888" stroke-width="1.8"/><circle cx="408.6" cy="683.1" r="9.8" fill="none" stroke="#666" stroke-width="1"/><path d="M414.60,683.10 A6,6 0 0 1 413.90,685.91 Q412.46,685.95 412.84,687.34 A6,6 0 0 1 410.36,688.83 Q409.31,687.85 408.60,689.10 A6,6 0 0 1 405.79,688.40 Q405.75,686.96 404.36,687.34 A6,6 0 0 1 402.87,684.86 Q403.85,683.81 402.60,683.10 A6,6 0 0 1 403.30,680.29 Q404.74,680.25 404.36,678.86 A6,6 0 0 1 406.84,677.37 Q407.89,678.35 408.60,677.10 A6,6 0 0 1 411.41,677.80 Q411.45,679.24 412.84,678.86 A6,6 0 0 1 414.33,681.34 Q413.35,682.39 414.60,683.10 Z" fill="none" stroke="#555" stroke-width="0.8"/><circle cx="392.5" cy="667.7" r="2.5" fill="none" stroke="#666" stroke-width="1"/><circle cx="424" cy="667.7" r="2.5" fill="none" stroke="#666" stroke-width="1"/><circle cx="392.5" cy="700.6" r="2.5" fill="none" stroke="#666" stroke-width="1"/><circle cx="424" cy="700.6" r="2.5" fill="none" stroke="#666" stroke-width="1"/><circle cx="397.4" cy="672.6" r="2" fill="none" stroke="#666" stroke-width="1"/><circle cx="419.5" cy="672.6" r="2" fill="none" stroke="#666" stroke-width="1"/><circle cx="397.4" cy="695" r="2" fill="none" stroke="#666" stroke-width="1"/><circle cx="419.5" cy="695" r="2" fill="none" stroke="#666" stroke-width="1"/><line x1="436.6" y1="639" x2="426.1" y2="639" stroke="#222" stroke-width="0.8"/><line x1="426.1" y1="639" x2="393.2" y2="725" stroke="#222" stroke-width="0.8"/><path d="M417.70,660.70 L418.34,653.45 L422.08,654.88 z" fill="#222"/><path d="M398.80,711.00 L398.16,718.25 L394.42,716.82 z" fill="#222"/><line x1="377.1" y1="646" x2="388.3" y2="646" stroke="#222" stroke-width="0.8"/><line x1="388.3" y1="646" x2="398.8" y2="666.3" stroke="#222" stroke-width="0.8"/><path d="M398.80,666.30 L394.22,661.94 L397.75,660.06 z" fill="#222"/><line x1="360.3" y1="662.5" x2="386.2" y2="666.3" stroke="#222" stroke-width="0.8"/><path d="M386.20,666.30 L379.98,667.45 L380.54,663.48 z" fill="#222"/><line x1="354" y1="682" x2="363.1" y2="682" stroke="#222" stroke-width="0.8"/><line x1="363.1" y1="682" x2="393.2" y2="693.6" stroke="#222" stroke-width="0.8"/><path d="M393.20,693.60 L386.88,693.32 L388.32,689.58 z" fill="#222"/><line x1="397.4" y1="669" x2="405.1" y2="669.8" stroke="#222" stroke-width="0.8"/><path d="M406.00,669.80 L400.84,671.07 L401.22,667.49 z" fill="#222"/><line x1="401.6" y1="698.5" x2="408.6" y2="700.6" stroke="#222" stroke-width="0.8"/><path d="M409.50,700.80 L404.20,701.24 L405.14,697.77 z" fill="#222"/><line x1="426.1" y1="718.8" x2="417" y2="699.9" stroke="#222" stroke-width="0.8"/><path d="M417.00,699.90 L421.87,705.31 L418.27,707.07 z" fill="#222"/><text x="431.7" y="638.5" font-size="7.5" text-anchor="middle" fill="#222" font-weight="bold" font-family='"Liberation Sans",sans-serif' >Q1</text><text x="372.9" y="649" font-size="7.5" text-anchor="middle" fill="#222" font-weight="bold" font-family='"Liberation Sans",sans-serif' >Q</text><text x="354" y="665.5" font-size="7.5" text-anchor="middle" fill="#222" font-weight="bold" font-family='"Liberation Sans",sans-serif' >W1</text><text x="347.7" y="685.5" font-size="7.5" text-anchor="middle" fill="#222" font-weight="bold" font-family='"Liberation Sans",sans-serif' >W</text><clipPath id="domeclip"><path d="M484.3,522 A24.6,28 0 0 1 533.5,522 Z"/></clipPath><g clip-path="url(#domeclip)"><rect x="484" y="493" width="50" height="29" fill="url(#hatch2)"/></g><path d="M484.3,522 A24.6,28 0 0 1 533.5,522" fill="none" stroke="#555" stroke-width="1"/><path d="M487.5,512 A22,25.5 0 0 1 530.5,512" fill="none" stroke="#777" stroke-width="0.7"/><line x1="492.3" y1="503" x2="492.3" y2="522" stroke="#aaa" stroke-width="1.4"/><line x1="525.9" y1="503" x2="525.9" y2="522" stroke="#aaa" stroke-width="1.4"/><rect x="497" y="501.8" width="24.2" height="18.5" fill="#fff" stroke="#666" stroke-width="0.8" /><path d="M497,501.8 L509.1,520.3 L521.2,501.8 M497,520.3 L509.1,501.8 L521.2,520.3" fill="none" stroke="#555" stroke-width="0.8"/><line x1="484.3" y1="522.3" x2="533.5" y2="522.3" stroke="#666" stroke-width="1"/><line x1="509" y1="490.3" x2="509" y2="529" stroke="#777" stroke-width="0.8"/><rect x="492.3" y="522.3" width="68" height="52" fill="none" stroke="#666" stroke-width="1" /><path d="M525,555 L525,566 Q522,568 523,570 L537.7,570 Q539,568 536.5,566 L536.5,555" fill="none" stroke="#666" stroke-width="0.9"/><rect x="527.5" y="549" width="7" height="18" fill="none" stroke="#666" stroke-width="0.8" /><line x1="529.5" y1="549" x2="529.5" y2="565" stroke="#777" stroke-width="0.6"/><line x1="532.5" y1="549" x2="532.5" y2="565" stroke="#777" stroke-width="0.6"/><line x1="519" y1="541" x2="545" y2="541" stroke="#444" stroke-width="0.7"/><line x1="523.5" y1="536" x2="523.5" y2="567" stroke="#444" stroke-width="0.7"/><line x1="533" y1="538" x2="533" y2="548" stroke="#444" stroke-width="0.7"/><path d="M523.50,541.00 L520.50,542.00 L520.50,540.00 z" fill="#222"/><path d="M533.00,541.00 L536.00,540.00 L536.00,542.00 z" fill="#222"/><text x="529.7" y="540" font-size="6.5" text-anchor="middle" fill="#333" font-weight="normal" font-family='"Liberation Sans",sans-serif' >4</text><line x1="509" y1="549" x2="525" y2="549" stroke="#444" stroke-width="0.7"/><line x1="509" y1="556" x2="525" y2="556" stroke="#444" stroke-width="0.7"/><line x1="511" y1="546" x2="511" y2="566" stroke="#444" stroke-width="0.7"/><text x="517.5" y="552.7" font-size="6" text-anchor="middle" fill="#333" font-weight="normal" font-family='"Liberation Sans",sans-serif' transform="rotate(-90 517.5 552.7)" dominant-baseline="middle">4</text><text x="506.5" y="557.7" font-size="6" text-anchor="middle" fill="#333" font-weight="normal" font-family='"Liberation Sans",sans-serif' transform="rotate(-90 506.5 557.7)" dominant-baseline="middle">16</text><line x1="537" y1="556" x2="552" y2="556" stroke="#444" stroke-width="0.7"/><path d="M537.00,556.00 L540.00,555.00 L540.00,557.00 z" fill="#222"/><text x="546.5" y="554.5" font-size="6.5" text-anchor="middle" fill="#333" font-weight="normal" font-family='"Liberation Sans",sans-serif' >M6</text><text x="524" y="583.5" font-size="6.6" text-anchor="middle" fill="#111" font-weight="normal" font-family='"Liberation Sans",sans-serif' textLength="35.4" lengthAdjust="spacingAndGlyphs">VDI/VDE 3845</text><text x="677.5" y="508" font-size="7.8" text-anchor="middle" fill="#111" font-weight="normal" font-family='"Liberation Sans",sans-serif' >通气接口</text><clipPath id="nclip"><circle cx="674.8" cy="541.4" r="27.2"/></clipPath><g clip-path="url(#nclip)"><rect x="645" y="513" width="60" height="4.6" fill="#d4d4d4"/><rect x="645" y="559.8" width="60" height="10" fill="#d4d4d4"/><line x1="645" y1="562" x2="705" y2="562" stroke="#aaa" stroke-width="0.6"/><line x1="645" y1="564.5" x2="705" y2="564.5" stroke="#aaa" stroke-width="0.6"/></g><circle cx="674.8" cy="541.4" r="27.2" fill="none" stroke="#555" stroke-width="1"/><circle cx="664.1" cy="522.5" r="2.6" fill="none" stroke="#666" stroke-width="1"/><circle cx="677.1" cy="522.5" r="2.6" fill="none" stroke="#666" stroke-width="1"/><line x1="666.7" y1="522.5" x2="674.5" y2="522.5" fill="none" stroke="#666" stroke-width="1"/><circle cx="664.1" cy="539.1" r="4.8" fill="none" stroke="#666" stroke-width="1"/><circle cx="664.1" cy="539.1" r="2" fill="none" stroke="#666" stroke-width="1"/><line x1="664.1" y1="541" x2="664.1" y2="572" fill="none" stroke="#666" stroke-width="1"/><circle cx="690.2" cy="539.1" r="4.9" fill="none" stroke="#666" stroke-width="1"/><circle cx="690.2" cy="541.8" r="2.5" fill="none" stroke="#666" stroke-width="1"/><line x1="690.2" y1="544.3" x2="690.2" y2="572" fill="none" stroke="#666" stroke-width="1"/><circle cx="677.1" cy="556.7" r="2" fill="none" stroke="#666" stroke-width="1"/><circle cx="690.2" cy="556.7" r="2" fill="none" stroke="#666" stroke-width="1"/><line x1="679.1" y1="556.7" x2="688.2" y2="556.7" fill="none" stroke="#666" stroke-width="1"/><line x1="636" y1="522.2" x2="662" y2="522.2" fill="none" stroke="#666" stroke-width="1"/><line x1="636" y1="556.7" x2="675" y2="556.7" fill="none" stroke="#666" stroke-width="1"/><line x1="638" y1="522.2" x2="638" y2="556.7" fill="none" stroke="#666" stroke-width="1"/><path d="M638.00,522.20 L639.60,527.20 L636.40,527.20 z" fill="#222"/><path d="M638.00,556.70 L636.40,551.70 L639.60,551.70 z" fill="#222"/><text x="635" y="539.8" font-size="7" text-anchor="middle" fill="#333" font-weight="normal" font-family='"Liberation Sans",sans-serif' transform="rotate(-90 635 539.8)" dominant-baseline="middle">32</text><line x1="664.1" y1="569.7" x2="690.2" y2="569.7" fill="none" stroke="#666" stroke-width="1"/><path d="M664.10,569.70 L669.10,568.10 L669.10,571.30 z" fill="#222"/><path d="M690.20,569.70 L685.20,571.30 L685.20,568.10 z" fill="#222"/><text x="677.2" y="567.5" font-size="7" text-anchor="middle" fill="#333" font-weight="normal" font-family='"Liberation Sans",sans-serif' >24</text><text x="677.2" y="581" font-size="6.8" text-anchor="middle" fill="#222" font-weight="normal" font-family='"Liberation Sans",sans-serif' >NAMUR</text><line x1="720.5" y1="526" x2="696.3" y2="536" stroke="#333" stroke-width="0.8"/><path d="M695.30,536.40 L699.30,532.95 L700.57,536.10 z" fill="#111"/><text x="723.3" y="530.5" font-size="6.5" text-anchor="middle" fill="#333" font-weight="normal" font-family='"Liberation Sans",sans-serif' >T</text><line x1="705" y1="565.1" x2="732" y2="565.1" stroke="#333" stroke-width="0.7"/><line x1="705" y1="565.1" x2="693.5" y2="558" stroke="#333" stroke-width="0.7"/><path d="M693.50,558.00 L698.64,559.21 L696.84,562.09 z" fill="#111"/><line x1="677" y1="551" x2="688.5" y2="555.5" stroke="#333" stroke-width="0.7"/><path d="M688.50,555.50 L683.23,555.20 L684.50,552.05 z" fill="#111"/><text x="721.2" y="563.3" font-size="6.3" text-anchor="middle" fill="#333" font-weight="normal" font-family='"Liberation Sans",sans-serif' >4-M5x8</text><line x1="622.3" y1="653.9" x2="664" y2="564.5" stroke="#333" stroke-width="0.8"/><path d="M622.30,653.90 L622.96,648.69 L625.86,650.04 z" fill="#222"/><line x1="560.3" y1="575.5" x2="584" y2="599.7" stroke="#333" stroke-width="0.8"/><path d="M560.30,575.50 L565.91,578.43 L563.03,581.21 z" fill="#222"/><rect x="538.9" y="622.4" width="130.3" height="75.9" fill="none" stroke="#666" stroke-width="1" /><line x1="538.9" y1="625.6" x2="669.2" y2="625.6" fill="none" stroke="#666" stroke-width="1"/><line x1="538.9" y1="649.5" x2="669.2" y2="649.5" fill="none" stroke="#666" stroke-width="1"/><line x1="538.9" y1="694.6" x2="669.2" y2="694.6" fill="none" stroke="#666" stroke-width="1"/><line x1="541.6" y1="622.4" x2="541.6" y2="698.3" fill="none" stroke="#666" stroke-width="1"/><line x1="545.8" y1="622.4" x2="545.8" y2="698.3" fill="none" stroke="#666" stroke-width="1"/><line x1="666.7" y1="622.4" x2="666.7" y2="698.3" fill="none" stroke="#666" stroke-width="1"/><line x1="664.2" y1="622.4" x2="664.2" y2="698.3" fill="none" stroke="#666" stroke-width="1"/><line x1="554.5" y1="649.5" x2="554.5" y2="694.6" fill="none" stroke="#666" stroke-width="1"/><line x1="654.4" y1="649.5" x2="654.4" y2="694.6" fill="none" stroke="#666" stroke-width="1"/><path d="M538.9,631.7 L521.2,636.7 L521.2,683.5 L538.9,689.7" fill="none" stroke="#666" stroke-width="1"/><path d="M669.2,631.7 L687.7,636.7 L687.7,683.5 L669.2,689.7" fill="none" stroke="#666" stroke-width="1"/><path d="M538.9,634.5 L534.9,634.5 Q530.9,637 534.9,639.5 L538.9,639.5" fill="none" stroke="#666" stroke-width="0.8"/><rect x="535.9" y="632.5" width="3" height="9" fill="none" stroke="#777" stroke-width="0.7" /><path d="M538.9,682.5 L534.9,682.5 Q530.9,685 534.9,687.5 L538.9,687.5" fill="none" stroke="#666" stroke-width="0.8"/><rect x="535.9" y="680.5" width="3" height="9" fill="none" stroke="#777" stroke-width="0.7" /><path d="M669.2,634.5 L673.2,634.5 Q677.2,637 673.2,639.5 L669.2,639.5" fill="none" stroke="#666" stroke-width="0.8"/><rect x="669.2" y="632.5" width="3" height="9" fill="none" stroke="#777" stroke-width="0.7" /><path d="M669.2,682.5 L673.2,682.5 Q677.2,685 673.2,687.5 L669.2,687.5" fill="none" stroke="#666" stroke-width="0.8"/><rect x="669.2" y="680.5" width="3" height="9" fill="none" stroke="#777" stroke-width="0.7" /><rect x="582.8" y="599.7" width="43.2" height="22.7" fill="none" stroke="#666" stroke-width="1" /><path d="M585,620 L585,602 L596,602 L596,612 L593.5,612 L593.5,604.5 L587.5,604.5 L587.5,620" fill="none" stroke="#666" stroke-width="0.8"/><path d="M600,622 L600,603 L604,603 L604,612 L606,610 L606,603" fill="none" stroke="#666" stroke-width="0.8"/><line x1="582.8" y1="604" x2="626" y2="604" stroke="#888" stroke-width="0.6"/><line x1="582.8" y1="585" x2="582.8" y2="599.7" fill="none" stroke="#666" stroke-width="1"/><line x1="626" y1="585" x2="626" y2="599.7" fill="none" stroke="#666" stroke-width="1"/><line x1="582.8" y1="587.8" x2="626" y2="587.8" fill="none" stroke="#666" stroke-width="1"/><path d="M582.80,587.80 L587.80,586.20 L587.80,589.40 z" fill="#222"/><path d="M626.00,587.80 L621.00,589.40 L621.00,586.20 z" fill="#222"/><line x1="589" y1="591" x2="589" y2="600" stroke="#666" stroke-width="0.6"/><line x1="614.9" y1="591" x2="614.9" y2="600" stroke="#666" stroke-width="0.6"/><line x1="590" y1="594.7" x2="602" y2="594.7" stroke="#444" stroke-width="0.7"/><line x1="607" y1="594.7" x2="634" y2="594.7" stroke="#444" stroke-width="0.7"/><path d="M602.00,594.70 L598.00,596.00 L598.00,593.40 z" fill="#222"/><path d="M607.00,594.70 L611.00,593.40 L611.00,596.00 z" fill="#222"/><text x="641" y="598" font-size="9" text-anchor="middle" fill="#222" font-weight="normal" font-family='"Liberation Sans",sans-serif' >4x4</text><line x1="566" y1="599.7" x2="582.8" y2="599.7" fill="none" stroke="#666" stroke-width="1"/><line x1="566" y1="622.4" x2="538.9" y2="622.4" fill="none" stroke="#666" stroke-width="1"/><line x1="569.3" y1="587.3" x2="569.3" y2="599.7" fill="none" stroke="#666" stroke-width="1"/><path d="M569.30,599.70 L567.70,594.70 L570.90,594.70 z" fill="#222"/><line x1="569.3" y1="622.4" x2="569.3" y2="635.4" fill="none" stroke="#666" stroke-width="1"/><path d="M569.30,622.40 L570.90,627.40 L567.70,627.40 z" fill="#222"/><text x="564.3" y="611" font-size="7" text-anchor="middle" fill="#222" font-weight="normal" font-family='"Liberation Sans",sans-serif' transform="rotate(-90 564.3 611)" dominant-baseline="middle">P</text><circle cx="594" cy="639.6" r="6.4" fill="none" stroke="#555" stroke-width="1.1"/><circle cx="614.9" cy="639.6" r="6.4" fill="none" stroke="#555" stroke-width="1.1"/><circle cx="602.6" cy="676.1" r="27.1" fill="#fff" stroke="#555" stroke-width="1"/><circle cx="591.5" cy="655.2" r="2.5" fill="none" stroke="#666" stroke-width="1"/><circle cx="605" cy="655.2" r="2.5" fill="none" stroke="#666" stroke-width="1"/><circle cx="605" cy="689.7" r="2.5" fill="none" stroke="#666" stroke-width="1"/><circle cx="617.4" cy="689.7" r="2.5" fill="none" stroke="#666" stroke-width="1"/><circle cx="591" cy="672" r="4.5" fill="none" stroke="#666" stroke-width="1"/><circle cx="591" cy="672" r="2" fill="none" stroke="#666" stroke-width="1"/><circle cx="617.4" cy="672" r="4.5" fill="none" stroke="#666" stroke-width="1"/><circle cx="617.8" cy="674.2" r="2.3" fill="none" stroke="#666" stroke-width="1"/><text x="631" y="662.5" font-size="9" text-anchor="middle" fill="#333" font-weight="normal" font-family='"Liberation Sans",sans-serif' >X</text><line x1="603.8" y1="592" x2="603.8" y2="721" fill="none" stroke="#777" stroke-width="0.8" stroke-dasharray="5 2"/><line x1="521.2" y1="683.5" x2="521.2" y2="727" fill="none" stroke="#666" stroke-width="1"/><line x1="687.7" y1="683.5" x2="687.7" y2="727" fill="none" stroke="#666" stroke-width="1"/><line x1="521.2" y1="720" x2="687.7" y2="720" fill="none" stroke="#666" stroke-width="1"/><path d="M521.20,720.00 L528.20,717.80 L528.20,722.20 z" fill="#222"/><path d="M687.70,720.00 L680.70,722.20 L680.70,717.80 z" fill="#222"/><text x="605" y="718.5" font-size="7.5" text-anchor="middle" fill="#333" font-weight="normal" font-family='"Liberation Sans",sans-serif' >L</text>
<rect x="30" y="264" width="686" height="28" fill="#dcdcdc"/><line x1="29" y1="292.3" x2="716" y2="292.3" stroke="#8a8a8a" stroke-width="1.4"/><line x1="85.2" y1="264" x2="85.2" y2="292" stroke="#8a8a8a" stroke-width="1.1" stroke-dasharray="1.3 2"/><line x1="118" y1="264" x2="118" y2="292" stroke="#8a8a8a" stroke-width="1.1" stroke-dasharray="1.3 2"/><line x1="150.8" y1="264" x2="150.8" y2="292" stroke="#8a8a8a" stroke-width="1.1" stroke-dasharray="1.3 2"/><line x1="183.6" y1="264" x2="183.6" y2="292" stroke="#8a8a8a" stroke-width="1.1" stroke-dasharray="1.3 2"/><line x1="216.3" y1="264" x2="216.3" y2="292" stroke="#8a8a8a" stroke-width="1.1" stroke-dasharray="1.3 2"/><line x1="248.3" y1="264" x2="248.3" y2="292" stroke="#8a8a8a" stroke-width="1.1" stroke-dasharray="1.3 2"/><line x1="278.4" y1="264" x2="278.4" y2="292" stroke="#8a8a8a" stroke-width="1.1" stroke-dasharray="1.3 2"/><line x1="310.6" y1="264" x2="310.6" y2="292" stroke="#8a8a8a" stroke-width="1.1" stroke-dasharray="1.3 2"/><line x1="344.4" y1="264" x2="344.4" y2="292" stroke="#8a8a8a" stroke-width="1.1" stroke-dasharray="1.3 2"/><line x1="376.6" y1="264" x2="376.6" y2="292" stroke="#8a8a8a" stroke-width="1.1" stroke-dasharray="1.3 2"/><line x1="447" y1="264" x2="447" y2="292" stroke="#8a8a8a" stroke-width="1.1" stroke-dasharray="1.3 2"/><line x1="482.4" y1="264" x2="482.4" y2="292" stroke="#8a8a8a" stroke-width="1.1" stroke-dasharray="1.3 2"/><line x1="518.1" y1="264" x2="518.1" y2="292" stroke="#8a8a8a" stroke-width="1.1" stroke-dasharray="1.3 2"/><line x1="553.4" y1="264" x2="553.4" y2="292" stroke="#8a8a8a" stroke-width="1.1" stroke-dasharray="1.3 2"/><line x1="600.4" y1="264" x2="600.4" y2="292" stroke="#8a8a8a" stroke-width="1.1" stroke-dasharray="1.3 2"/><line x1="652.4" y1="264" x2="652.4" y2="292" stroke="#8a8a8a" stroke-width="1.1" stroke-dasharray="1.3 2"/><line x1="85.2" y1="292.3" x2="85.2" y2="474.7" stroke="#8a8a8a" stroke-width="1.3"/><line x1="118" y1="292.3" x2="118" y2="474.7" stroke="#8a8a8a" stroke-width="1.3"/><line x1="150.8" y1="292.3" x2="150.8" y2="474.7" stroke="#8a8a8a" stroke-width="1.3"/><line x1="183.6" y1="292.3" x2="183.6" y2="474.7" stroke="#8a8a8a" stroke-width="1.3"/><line x1="216.3" y1="292.3" x2="216.3" y2="474.7" stroke="#8a8a8a" stroke-width="1.3"/><line x1="248.3" y1="292.3" x2="248.3" y2="474.7" stroke="#8a8a8a" stroke-width="1.3"/><line x1="278.4" y1="292.3" x2="278.4" y2="474.7" stroke="#8a8a8a" stroke-width="1.3"/><line x1="310.6" y1="292.3" x2="310.6" y2="474.7" stroke="#8a8a8a" stroke-width="1.3"/><line x1="344.4" y1="292.3" x2="344.4" y2="474.7" stroke="#8a8a8a" stroke-width="1.3"/><line x1="376.6" y1="292.3" x2="376.6" y2="474.7" stroke="#8a8a8a" stroke-width="1.3"/><line x1="447" y1="292.3" x2="447" y2="474.7" stroke="#8a8a8a" stroke-width="1.3"/><line x1="482.4" y1="292.3" x2="482.4" y2="474.7" stroke="#8a8a8a" stroke-width="1.3"/><line x1="518.1" y1="292.3" x2="518.1" y2="474.7" stroke="#8a8a8a" stroke-width="1.3"/><line x1="553.4" y1="292.3" x2="553.4" y2="474.7" stroke="#8a8a8a" stroke-width="1.3"/><line x1="600.4" y1="292.3" x2="600.4" y2="474.7" stroke="#8a8a8a" stroke-width="1.3"/><line x1="652.4" y1="292.3" x2="652.4" y2="474.7" stroke="#8a8a8a" stroke-width="1.3"/><line x1="29" y1="310.5" x2="248.3" y2="310.5" stroke="#8a8a8a" stroke-width="1.3"/><line x1="278.4" y1="310.5" x2="716" y2="310.5" stroke="#8a8a8a" stroke-width="1.3"/><line x1="29" y1="328.8" x2="248.3" y2="328.8" stroke="#8a8a8a" stroke-width="1.3"/><line x1="278.4" y1="328.8" x2="716" y2="328.8" stroke="#8a8a8a" stroke-width="1.3"/><line x1="29" y1="347.0" x2="248.3" y2="347.0" stroke="#8a8a8a" stroke-width="1.3"/><line x1="278.4" y1="347.0" x2="716" y2="347.0" stroke="#8a8a8a" stroke-width="1.3"/><line x1="29" y1="365.3" x2="248.3" y2="365.3" stroke="#8a8a8a" stroke-width="1.3"/><line x1="278.4" y1="365.3" x2="716" y2="365.3" stroke="#8a8a8a" stroke-width="1.3"/><line x1="29" y1="383.5" x2="248.3" y2="383.5" stroke="#8a8a8a" stroke-width="1.3"/><line x1="278.4" y1="383.5" x2="716" y2="383.5" stroke="#8a8a8a" stroke-width="1.3"/><line x1="29" y1="401.7" x2="248.3" y2="401.7" stroke="#8a8a8a" stroke-width="1.3"/><line x1="29" y1="420.0" x2="716" y2="420.0" stroke="#6a6a6a" stroke-width="1.8"/><line x1="29" y1="438.2" x2="248.3" y2="438.2" stroke="#8a8a8a" stroke-width="1.3"/><line x1="278.4" y1="438.2" x2="716" y2="438.2" stroke="#8a8a8a" stroke-width="1.3"/><line x1="29" y1="456.5" x2="248.3" y2="456.5" stroke="#8a8a8a" stroke-width="1.3"/><line x1="278.4" y1="456.5" x2="716" y2="456.5" stroke="#8a8a8a" stroke-width="1.3"/><rect x="29.5" y="263.2" width="686.7" height="211.3" fill="none" stroke="#3c3c3c" stroke-width="1.8"/><text x="57.1" y="282.8" class="th"></text><text x="101.6" y="282.8" class="th">A</text><text x="134.4" y="282.8" class="th">B</text><text x="167.2" y="282.8" class="th">C</text><text x="199.9" y="282.8" class="th">E</text><text x="232.3" y="282.8" class="th">F</text><text x="263.4" y="282.8" class="th">P</text><text x="294.5" y="282.8" class="th">ϕJ</text><text x="327.5" y="282.8" class="th">L</text><text x="360.5" y="282.8" class="th">I</text><text x="410.2" y="283" class="th cjk">法兰类型</text><text x="464.7" y="282.8" class="th">Q</text><text x="500.2" y="282.8" class="th">Q1</text><text x="535.8" y="282.8" class="th">W</text><text x="576.9" y="282.8" class="th">W1</text><text x="626.4" y="283" class="th cjk">四方</text><text x="679.9" y="282.8" class="th">T</text><text x="57.1" y="306.0" class="td">ST032</text><text x="101.6" y="306.0" class="td">37</text><text x="134.4" y="306.0" class="td">40</text><text x="167.2" y="306.0" class="td">50</text><text x="199.9" y="306.0" class="td">27</text><text x="232.3" y="306.0" class="td">50</text><text x="294.5" y="306.0" class="td">13</text><text x="327.5" y="306.0" class="td">110</text><text x="360.5" y="306.0" class="td">10</text><text x="409.2" y="306.0" class="td">F03</text><text x="500.2" y="306.0" class="td">36</text><text x="576.9" y="306.0" class="td">4-M5X9</text><text x="626.4" y="306.0" class="td">9X9</text><text x="680.4" y="306.0" class="td">G1/8″</text><text x="57.1" y="324.3" class="td">ST050</text><text x="101.6" y="324.3" class="td">45</text><text x="134.4" y="324.3" class="td">59</text><text x="167.2" y="324.3" class="td">70</text><text x="199.9" y="324.3" class="td">41.5</text><text x="232.3" y="324.3" class="td">80</text><text x="294.5" y="324.3" class="td">15</text><text x="327.5" y="324.3" class="td">154</text><text x="360.5" y="324.3" class="td">12</text><text x="409.2" y="324.3" class="td">F03/05</text><text x="464.7" y="324.3" class="td">36</text><text x="500.2" y="324.3" class="td">50</text><text x="535.8" y="324.3" class="td">M5</text><text x="576.9" y="324.3" class="td">M5X9</text><text x="626.4" y="324.3" class="td">11x11</text><text x="680.4" y="324.3" class="td">G1/8″</text><text x="57.1" y="342.5" class="td">ST065</text><text x="101.6" y="342.5" class="td">62</text><text x="134.4" y="342.5" class="td">73</text><text x="167.2" y="342.5" class="td">89</text><text x="199.9" y="342.5" class="td">51.5</text><text x="232.3" y="342.5" class="td">80</text><text x="294.5" y="342.5" class="td">19</text><text x="327.5" y="342.5" class="td">189</text><text x="360.5" y="342.5" class="td">16</text><text x="409.2" y="342.5" class="td">F05/07</text><text x="464.7" y="342.5" class="td">50</text><text x="500.2" y="342.5" class="td">70</text><text x="535.8" y="342.5" class="td">M6</text><text x="576.9" y="342.5" class="td">M6X9</text><text x="626.4" y="342.5" class="td">14x14</text><text x="680.4" y="342.5" class="td">G1/8″</text><text x="57.1" y="360.7" class="td">ST075</text><text x="101.6" y="360.7" class="td">68</text><text x="134.4" y="360.7" class="td">85.5</text><text x="167.2" y="360.7" class="td">100</text><text x="199.9" y="360.7" class="td">59</text><text x="232.3" y="360.7" class="td">80</text><text x="294.5" y="360.7" class="td">19</text><text x="327.5" y="360.7" class="td">210</text><text x="360.5" y="360.7" class="td">16</text><text x="409.2" y="360.7" class="td">F05/07</text><text x="464.7" y="360.7" class="td">50</text><text x="500.2" y="360.7" class="td">70</text><text x="535.8" y="360.7" class="td">M6</text><text x="576.9" y="360.7" class="td">M8X12</text><text x="626.4" y="360.7" class="td">14x14</text><text x="680.4" y="360.7" class="td">G1/8″</text><text x="57.1" y="379.0" class="td">ST085</text><text x="101.6" y="379.0" class="td">68</text><text x="134.4" y="379.0" class="td">96</text><text x="167.2" y="379.0" class="td">113</text><text x="199.9" y="379.0" class="td">63.5</text><text x="232.3" y="379.0" class="td">80</text><text x="294.5" y="379.0" class="td">23</text><text x="327.5" y="379.0" class="td">225</text><text x="360.5" y="379.0" class="td">19</text><text x="409.2" y="379.0" class="td">F05/07</text><text x="464.7" y="379.0" class="td">50</text><text x="500.2" y="379.0" class="td">70</text><text x="535.8" y="379.0" class="td">M6</text><text x="576.9" y="379.0" class="td">M8X12</text><text x="626.4" y="379.0" class="td">17x17</text><text x="680.4" y="379.0" class="td">G1/8″</text><text x="57.1" y="397.2" class="td">ST095</text><text x="101.6" y="397.2" class="td">92</text><text x="134.4" y="397.2" class="td">108</text><text x="167.2" y="397.2" class="td">123</text><text x="199.9" y="397.2" class="td">71</text><text x="232.3" y="397.2" class="td">80</text><text x="294.5" y="397.2" class="td">23</text><text x="327.5" y="397.2" class="td">264</text><text x="360.5" y="397.2" class="td">19</text><text x="409.2" y="397.2" class="td">F07/10</text><text x="464.7" y="397.2" class="td">70</text><text x="500.2" y="397.2" class="td">102</text><text x="535.8" y="397.2" class="td">M8</text><text x="576.9" y="397.2" class="td">M10X15</text><text x="626.4" y="397.2" class="td">17x17</text><text x="680.4" y="397.2" class="td">G1/4″</text><text x="57.1" y="415.5" class="td">ST110</text><text x="101.6" y="415.5" class="td">93</text><text x="134.4" y="415.5" class="td">122</text><text x="167.2" y="415.5" class="td">136</text><text x="199.9" y="415.5" class="td">76.5</text><text x="232.3" y="415.5" class="td">80</text><text x="294.5" y="415.5" class="td">23</text><text x="327.5" y="415.5" class="td">266</text><text x="360.5" y="415.5" class="td">19</text><text x="409.2" y="415.5" class="td">F07/10</text><text x="464.7" y="415.5" class="td">70</text><text x="500.2" y="415.5" class="td">102</text><text x="535.8" y="415.5" class="td">M8</text><text x="576.9" y="415.5" class="td">M10X15</text><text x="626.4" y="415.5" class="td">17x17</text><text x="680.4" y="415.5" class="td">G1/4″</text><text x="57.1" y="433.7" class="td">ST125</text><text x="101.6" y="433.7" class="td">96</text><text x="134.4" y="433.7" class="td">139</text><text x="167.2" y="433.7" class="td">161</text><text x="199.9" y="433.7" class="td">85</text><text x="232.3" y="433.7" class="td">80</text><text x="294.5" y="433.7" class="td">30</text><text x="327.5" y="433.7" class="td">337</text><text x="360.5" y="433.7" class="td">24</text><text x="409.2" y="433.7" class="td">F07/10</text><text x="464.7" y="433.7" class="td">70</text><text x="500.2" y="433.7" class="td">102</text><text x="535.8" y="433.7" class="td">M8</text><text x="576.9" y="433.7" class="td">M10X15</text><text x="626.4" y="433.7" class="td">22x22</text><text x="680.4" y="433.7" class="td">G1/4″</text><text x="57.1" y="451.9" class="td">ST140</text><text x="101.6" y="451.9" class="td">110</text><text x="134.4" y="451.9" class="td">156</text><text x="167.2" y="451.9" class="td">178</text><text x="199.9" y="451.9" class="td">97</text><text x="232.3" y="451.9" class="td">80</text><text x="294.5" y="451.9" class="td">37</text><text x="327.5" y="451.9" class="td">346</text><text x="360.5" y="451.9" class="td">27</text><text x="409.2" y="451.9" class="td">F10/12</text><text x="464.7" y="451.9" class="td">102</text><text x="500.2" y="451.9" class="td">125</text><text x="535.8" y="451.9" class="td">M10</text><text x="576.9" y="451.9" class="td">M12X18</text><text x="626.4" y="451.9" class="td">27x27</text><text x="680.4" y="451.9" class="td">G1/4″</text><text x="57.1" y="470.2" class="td">ST160</text><text x="101.6" y="470.2" class="td">112</text><text x="134.4" y="470.2" class="td">172</text><text x="167.2" y="470.2" class="td">200</text><text x="199.9" y="470.2" class="td">106</text><text x="232.3" y="470.2" class="td">130</text><text x="294.5" y="470.2" class="td">37</text><text x="327.5" y="470.2" class="td">412</text><text x="360.5" y="470.2" class="td">27</text><text x="409.2" y="470.2" class="td">F10/12</text><text x="464.7" y="470.2" class="td">102</text><text x="500.2" y="470.2" class="td">125</text><text x="535.8" y="470.2" class="td">M10</text><text x="576.9" y="470.2" class="td">M12X18</text><text x="626.4" y="470.2" class="td">27x27</text><text x="680.4" y="470.2" class="td">G1/4″</text><text x="263.3" y="364.6" class="td">20</text><text x="48.1" y="283" class="th cjk">型</text><text x="68.7" y="283" class="th cjk">号</text><text x="263.3" y="446.7" class="td">30</text>
<text x="46" y="756.5" font-size="17.6" fill="#333" font-family='"Liberation Sans",sans-serif'>标准规范：</text><circle cx="53.4" cy="776.8" r="4.6" fill="none" stroke="#a8a8a8" stroke-width="1.3"/><circle cx="53.4" cy="776.8" r="2.3" fill="none" stroke="#b4b4b4" stroke-width="1"/><text x="60" y="781.5" font-size="13.7" fill="#333" textLength="54.7" lengthAdjust="spacingAndGlyphs" font-family='"Liberation Sans",sans-serif'>设计标准</text><text x="114.7" y="781.5" font-size="14.4" fill="#333" textLength="211.5" lengthAdjust="spacingAndGlyphs" xml:space="preserve" font-family='"Liberation Sans",sans-serif'>/Design : GB/T1224  GB/T12237</text><circle cx="53.4" cy="795.5" r="4.6" fill="none" stroke="#a8a8a8" stroke-width="1.3"/><circle cx="53.4" cy="795.5" r="2.3" fill="none" stroke="#b4b4b4" stroke-width="1"/><text x="60" y="800.2" font-size="13.7" fill="#333" textLength="54.3" lengthAdjust="spacingAndGlyphs" font-family='"Liberation Sans",sans-serif'>结构长度</text><text x="114.3" y="800.2" font-size="14.4" fill="#333" textLength="176.5" lengthAdjust="spacingAndGlyphs" xml:space="preserve" font-family='"Liberation Sans",sans-serif'>/Face to Face : GB/T12221</text><circle cx="53.4" cy="814.2" r="4.6" fill="none" stroke="#a8a8a8" stroke-width="1.3"/><circle cx="53.4" cy="814.2" r="2.3" fill="none" stroke="#b4b4b4" stroke-width="1"/><text x="60" y="818.9" font-size="13.7" fill="#333" textLength="54.5" lengthAdjust="spacingAndGlyphs" font-family='"Liberation Sans",sans-serif'>法兰接端</text><text x="114.5" y="818.9" font-size="14.4" fill="#333" textLength="169.7" lengthAdjust="spacingAndGlyphs" xml:space="preserve" font-family='"Liberation Sans",sans-serif'>/End Flange : GB/T9113.1</text><circle cx="53.4" cy="833.4" r="4.6" fill="none" stroke="#a8a8a8" stroke-width="1.3"/><circle cx="53.4" cy="833.4" r="2.3" fill="none" stroke="#b4b4b4" stroke-width="1"/><text x="60" y="838.1" font-size="13.7" fill="#333" textLength="26.7" lengthAdjust="spacingAndGlyphs" font-family='"Liberation Sans",sans-serif'>壁厚</text><text x="86.7" y="838.1" font-size="14.4" fill="#333" textLength="226.9" lengthAdjust="spacingAndGlyphs" xml:space="preserve" font-family='"Liberation Sans",sans-serif'>/Wall thickness : GB/T12224-2005</text><circle cx="53.4" cy="852.3" r="4.6" fill="none" stroke="#a8a8a8" stroke-width="1.3"/><circle cx="53.4" cy="852.3" r="2.3" fill="none" stroke="#b4b4b4" stroke-width="1"/><text x="60" y="857.0" font-size="13.7" fill="#333" textLength="70.7" lengthAdjust="spacingAndGlyphs" font-family='"Liberation Sans",sans-serif'>检验与测试</text><text x="130.7" y="857.0" font-size="14.4" fill="#333" textLength="273.0" lengthAdjust="spacingAndGlyphs" xml:space="preserve" font-family='"Liberation Sans",sans-serif'>/Inspecction &amp; Testing : GB/13927,API598</text>
</svg>

</body></html>
